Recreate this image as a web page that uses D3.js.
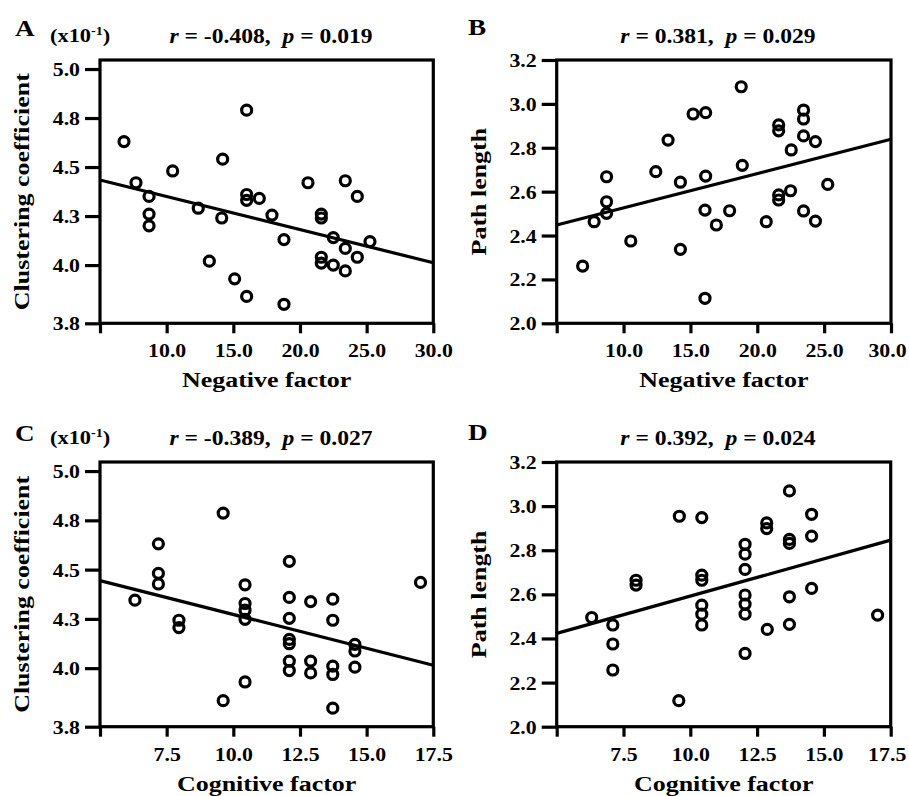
<!DOCTYPE html>
<html><head><meta charset="utf-8">
<script src="https://cdn.jsdelivr.net/npm/d3@7"></script>
<style>body{margin:0;background:#fff}</style>
</head><body><svg id="chart" width="909" height="796"></svg>
<script>
// ---- data ----
const negA = [6.8, 7.7, 8.68, 8.68, 8.68, 10.45, 12.37, 13.2, 14.2, 14.13, 15.1, 16.0, 16.0, 16.0, 16.0, 16.95, 17.9, 18.8, 18.8, 20.6, 21.6, 21.6, 21.6, 21.6, 22.5, 22.5, 23.4, 23.4, 23.4, 24.3, 24.3, 25.25];
const clusA = [4.63, 4.42, 4.35, 4.26, 4.20, 4.48, 4.29, 4.02, 4.54, 4.24, 3.93, 4.79, 4.36, 4.33, 3.84, 4.34, 4.255, 4.13, 3.80, 4.42, 4.26, 4.24, 4.04, 4.01, 4.14, 4.00, 4.43, 4.085, 3.97, 4.35, 4.04, 4.12];
const negB = [18.8, 15.2, 16.14, 13.33, 21.6, 21.6, 23.46, 23.46, 23.46, 24.35, 22.54, 18.88, 8.73, 12.41, 14.25, 16.14, 25.27, 8.73, 8.73, 7.8, 6.94, 10.54, 14.25, 16.09, 16.09, 16.94, 17.93, 20.67, 21.6, 21.6, 22.49, 23.46, 24.35];
const pathB = [3.078, 2.954, 2.96, 2.835, 2.904, 2.877, 2.972, 2.931, 2.854, 2.828, 2.79, 2.72, 2.668, 2.691, 2.643, 2.671, 2.633, 2.554, 2.501, 2.463, 2.261, 2.375, 2.337, 2.516, 2.114, 2.448, 2.513, 2.463, 2.585, 2.562, 2.604, 2.512, 2.466];
const cogC = [9.62, 7.19, 7.19, 7.19, 12.1, 17.02, 10.44, 6.31, 7.96, 7.96, 10.44, 10.44, 10.44, 10.44, 9.62, 12.1, 12.1, 12.1, 12.1, 12.1, 12.1, 12.9, 12.9, 12.9, 13.73, 13.73, 13.73, 13.73, 13.73, 14.56, 14.56, 14.56];
const clusC = [4.787, 4.631, 4.481, 4.427, 4.542, 4.435, 4.423, 4.345, 4.243, 4.206, 4.328, 4.294, 4.248, 3.93, 3.835, 4.359, 4.253, 4.146, 4.124, 4.036, 3.988, 4.338, 4.036, 3.976, 4.35, 4.243, 4.01, 3.968, 3.797, 4.121, 4.087, 4.005];
const cogD = [13.71, 9.59, 10.43, 14.54, 14.54, 12.86, 12.86, 13.71, 13.71, 12.05, 12.05, 12.05, 7.97, 7.97, 10.43, 10.43, 12.05, 14.54, 6.31, 7.1, 7.1, 7.1, 9.57, 10.43, 10.43, 10.43, 12.05, 12.05, 12.05, 12.88, 13.71, 13.71, 17.01];
const pathD = [3.069, 2.954, 2.948, 2.963, 2.864, 2.924, 2.898, 2.849, 2.831, 2.827, 2.782, 2.713, 2.664, 2.642, 2.687, 2.664, 2.597, 2.627, 2.495, 2.461, 2.375, 2.257, 2.118, 2.551, 2.51, 2.461, 2.556, 2.51, 2.332, 2.441, 2.589, 2.464, 2.506];

// regression lines (x, y at both ends)
const fitA = [[5, 4.434], [30, 4.012]];
const fitB = [[5, 2.448], [30, 2.839]];
const fitC = [[5, 4.444], [17.5, 4.015]];
const fitD = [[5, 2.423], [17.5, 2.846]];

const statsR = ["-0.408", "0.381", "-0.389", "0.392"];
const statsP = ["0.019", "0.029", "0.027", "0.024"];

const negDomain = [5, 30];
const negTicks = [5, 10, 15, 20, 25, 30];
const negTickLabels = ["", "10.0", "15.0", "20.0", "25.0", "30.0"];
const cogDomain = [5, 17.5];
const cogTicks = [5, 7.5, 10, 12.5, 15, 17.5];
const cogTickLabels = ["", "7.5", "10.0", "12.5", "15.0", "17.5"];
const clusDomain = [3.703, 5.046];
const clusTicks = [3.703, 4.0, 4.25, 4.5, 4.75, 5.0];
const clusTickLabels = ["3.8", "4.0", "4.3", "4.5", "4.8", "5.0"];
const pathDomain = [2.0, 3.2];
const pathTicks = [2.0, 2.2, 2.4, 2.6, 2.8, 3.0, 3.2];
const pathTickLabels = ["2.0", "2.2", "2.4", "2.6", "2.8", "3.0", "3.2"];

const letters = ["A", "B", "C", "D"];
const xTitles = ["Negative factor", "Negative factor", "Cognitive factor", "Cognitive factor"];
const yTitles = ["Clustering coefficient", "Path length", "Clustering coefficient", "Path length"];

// ---- layout ----
const SX = 1.18;
const FONT = "'Liberation Serif', 'Times New Roman', serif";
const svg = d3.select("#chart");

const panels = [
  {xs: negA, ys: clusA, fit: fitA, xd: negDomain, xt: negTicks, xl: negTickLabels, yd: clusDomain, yt: clusTicks, yl: clusTickLabels,
   left: 100, right: 433.3, top: 60, bottom: 323.3, titleX: 271, letterX: 15, letterY: 36, note: true, lastShift: 0},
  {xs: negB, ys: pathB, fit: fitB, xd: negDomain, xt: negTicks, xl: negTickLabels, yd: pathDomain, yt: pathTicks, yl: pathTickLabels,
   left: 556.7, right: 891, top: 60, bottom: 323.3, titleX: 718, letterX: 468, letterY: 35, note: false, lastShift: -4},
  {xs: cogC, ys: clusC, fit: fitC, xd: cogDomain, xt: cogTicks, xl: cogTickLabels, yd: clusDomain, yt: clusTicks, yl: clusTickLabels,
   left: 100, right: 433.3, top: 462, bottom: 726.7, titleX: 271, letterX: 15, letterY: 441, note: true, lastShift: 0},
  {xs: cogD, ys: pathD, fit: fitD, xd: cogDomain, xt: cogTicks, xl: cogTickLabels, yd: pathDomain, yt: pathTicks, yl: pathTickLabels,
   left: 556.7, right: 890.7, top: 462, bottom: 726.7, titleX: 718, letterX: 468, letterY: 440, note: false, lastShift: -4}
];

panels.forEach((p, i) => {
  const g = svg.append("g");
  const x = d3.scaleLinear().domain(p.xd).range([p.left, p.right]);
  const y = d3.scaleLinear().domain(p.yd).range([p.bottom, p.top]);

  // frame
  g.append("rect").attr("x", p.left).attr("y", p.top)
    .attr("width", p.right - p.left).attr("height", p.bottom - p.top)
    .attr("fill", "none").attr("stroke", "#000").attr("stroke-width", 3.2);

  // x axis
  const gx = g.append("g").attr("transform", `translate(0,${p.bottom})`)
    .call(d3.axisBottom(x).tickValues(p.xt).tickSize(10).tickSizeOuter(0).tickFormat((d, k) => p.xl[k]));
  gx.select(".domain").remove();
  gx.selectAll(".tick line").attr("stroke-width", 3.2);
  const nX = p.xt.length;
  gx.selectAll(".tick text").attr("y", 34).attr("dy", null)
    .attr("x", (d, k) => (k === nX - 1 ? p.lastShift / SX : 0))
    .attr("transform", `scale(${SX},1)`)
    .attr("font-family", FONT).attr("font-weight", "bold").attr("font-size", 18.5).attr("fill", "#000");

  // y axis
  const gy = g.append("g").attr("transform", `translate(${p.left},0)`)
    .call(d3.axisLeft(y).tickValues(p.yt).tickSize(15).tickSizeOuter(0).tickFormat((d, k) => p.yl[k]));
  gy.select(".domain").remove();
  gy.selectAll(".tick line").attr("stroke-width", 3.2);
  gy.selectAll(".tick text").attr("x", -20 / SX).attr("dy", "0.35em")
    .attr("transform", `scale(${SX},1)`)
    .attr("font-family", FONT).attr("font-weight", "bold").attr("font-size", 18.5).attr("fill", "#000");

  // regression line
  g.append("path").datum(p.fit)
    .attr("d", d3.line().x(d => x(d[0])).y(d => y(d[1])))
    .attr("stroke", "#000").attr("stroke-width", 3.2).attr("fill", "none");

  // points
  g.selectAll("circle.pt").data(p.xs.map((v, k) => [v, p.ys[k]])).enter()
    .append("circle").attr("class", "pt")
    .attr("cx", d => x(d[0])).attr("cy", d => y(d[1])).attr("r", 5)
    .attr("fill", "none").attr("stroke", "#000").attr("stroke-width", 3.2);

  // title
  const t = g.append("text")
    .attr("transform", `translate(${p.titleX},${p.top - 17}) scale(${SX},1)`)
    .attr("text-anchor", "middle").attr("font-family", FONT).attr("font-weight", "bold").attr("font-size", 20);
  t.append("tspan").attr("font-style", "italic").text("r");
  t.append("tspan").text("\u00a0=\u00a0" + statsR[i] + ",\u00a0\u00a0");
  t.append("tspan").attr("font-style", "italic").text("p");
  t.append("tspan").text("\u00a0=\u00a0" + statsP[i]);

  // panel letter
  g.append("text").attr("transform", `translate(${p.letterX},${p.letterY}) scale(${SX},1)`)
    .attr("font-family", FONT).attr("font-weight", "bold").attr("font-size", 23).text(letters[i]);

  // scale note
  if (p.note) {
    const n = g.append("text").attr("transform", `translate(50,${p.top - 18}) scale(${SX},1)`)
      .attr("font-family", FONT).attr("font-weight", "bold").attr("font-size", 19);
    n.append("tspan").text("(x10");
    n.append("tspan").attr("font-size", 12).attr("dy", -7).text("-1");
    n.append("tspan").attr("dy", 7).text(")");
  }

  // x title
  g.append("text").attr("transform", `translate(${(p.left + p.right) / 2},${p.bottom + 64}) scale(${SX},1)`)
    .attr("text-anchor", "middle").attr("font-family", FONT).attr("font-weight", "bold").attr("font-size", 22)
    .text(xTitles[i]);

  // y title
  g.append("text").attr("transform", `translate(${p.left - 71},${(p.top + p.bottom) / 2}) rotate(-90) scale(${SX},1)`)
    .attr("text-anchor", "middle").attr("font-family", FONT).attr("font-weight", "bold").attr("font-size", 22)
    .text(yTitles[i]);
});
</script>
</body></html>
